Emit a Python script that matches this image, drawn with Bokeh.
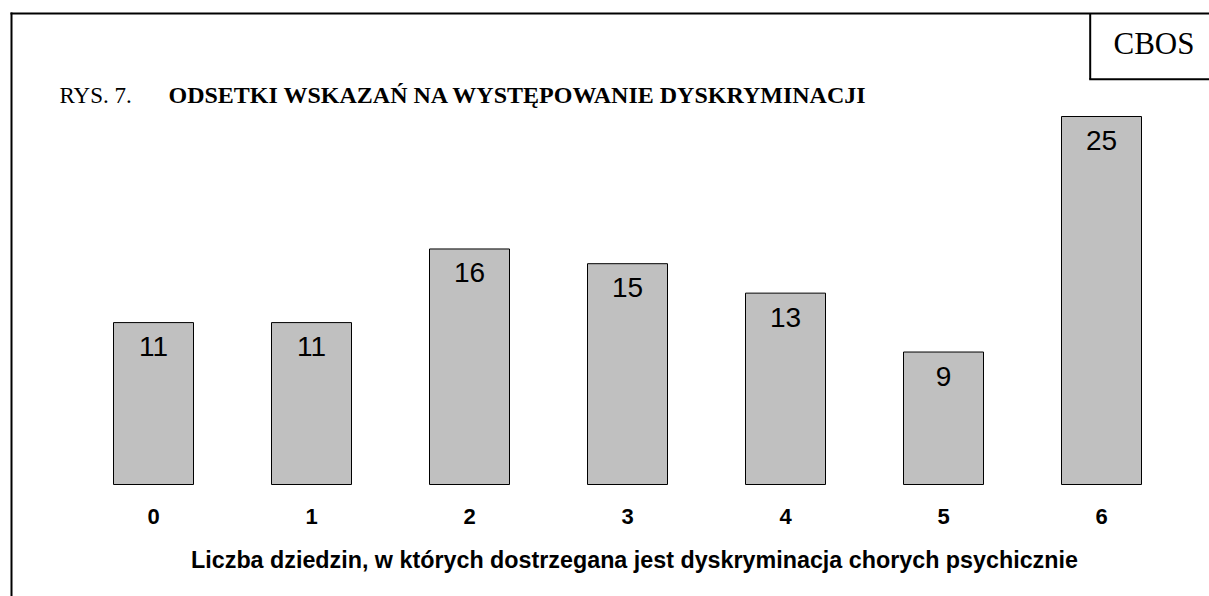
from bokeh.plotting import figure
from bokeh.models import Range1d, Label, Arrow, ColumnDataSource
from bokeh.core.properties import value
from bokeh.embed import file_html
from bokeh.resources import INLINE

categories = ["0", "1", "2", "3", "4", "5", "6"]
values = [11, 11, 16, 15, 13, 9, 25]
value_labels = ["11", "11", "16", "15", "13", "9", "25"]
title_prefix = "RYS. 7."
title_text = "ODSETKI WSKAZAŃ NA WYSTĘPOWANIE DYSKRYMINACJI"
axis_title = "Liczba dziedzin, w których dostrzegana jest dyskryminacja chorych psychicznie"
source_tag = "CBOS"

W, H = 1209, 596
idx = list(range(len(categories)))
src = ColumnDataSource(dict(x=idx, top=values, lab=value_labels, cat=categories,
                            zero=[0] * len(categories)))

p = figure(width=W, height=H, output_backend="svg", toolbar_location=None,
           x_range=Range1d(-153 / 158, (W - 153) / 158),
           y_range=Range1d(-(H - 484) / 14.72, 484 / 14.72),
           min_border=0, min_border_left=0, min_border_right=0,
           min_border_top=0, min_border_bottom=0)
p.axis.visible = False
p.grid.visible = False
p.outline_line_color = None
p.background_fill_color = "white"
p.border_fill_color = "white"

p.vbar(x="x", top="top", bottom=0, width=80 / 158, source=src,
       fill_color="#C0C0C0", line_color="black", line_width=1)

p.text(x="x", y="top", text="lab", source=src, text_align="center",
       text_baseline="middle", y_offset=24,
       text_font=value("Liberation Sans"), text_font_size="28px", text_color="black")

p.text(x="x", y="zero", text="cat", source=src, text_align="center",
       text_baseline="middle", y_offset=31.5,
       text_font=value("Liberation Sans"), text_font_style="bold",
       text_font_size="22px", text_color="black")


def seg(x0, y0, x1, y1):
    # screen coordinates given from the top-left of the page
    p.add_layout(Arrow(x_start=x0, y_start=H - y0, x_end=x1, y_end=H - y1,
                       start_units="screen", end_units="screen",
                       start=None, end=None, line_color="black", line_width=2))


# frame: left and top edges
seg(11, 12, 11, H + 50)
seg(10, 13, W + 50, 13)
# CBOS box
seg(1089.7, 13, 1089.7, 78.7)
seg(1088.7, 78.7, W + 50, 78.7)

p.add_layout(Label(x=1153.5, y=H - 42.5, x_units="screen", y_units="screen",
                   text=source_tag, text_align="center", text_baseline="middle",
                   text_font="Liberation Serif", text_font_size="31px", text_color="black"))

p.add_layout(Label(x=59, y=H - 94.7, x_units="screen", y_units="screen",
                   text=title_prefix, text_align="left", text_baseline="middle",
                   text_font="Liberation Serif", text_font_size="23px", text_color="black"))
p.add_layout(Label(x=168, y=H - 94.7, x_units="screen", y_units="screen",
                   text=title_text, text_align="left", text_baseline="middle",
                   text_font="Liberation Serif", text_font_style="bold",
                   text_font_size="24px", text_color="black"))

p.add_layout(Label(x=634, y=H - 559.7, x_units="screen", y_units="screen",
                   text=axis_title, text_align="center", text_baseline="middle",
                   text_font="Liberation Sans", text_font_style="bold",
                   text_font_size="23.3px", text_color="black"))

open("out.html", "w").write(file_html(p, INLINE))
